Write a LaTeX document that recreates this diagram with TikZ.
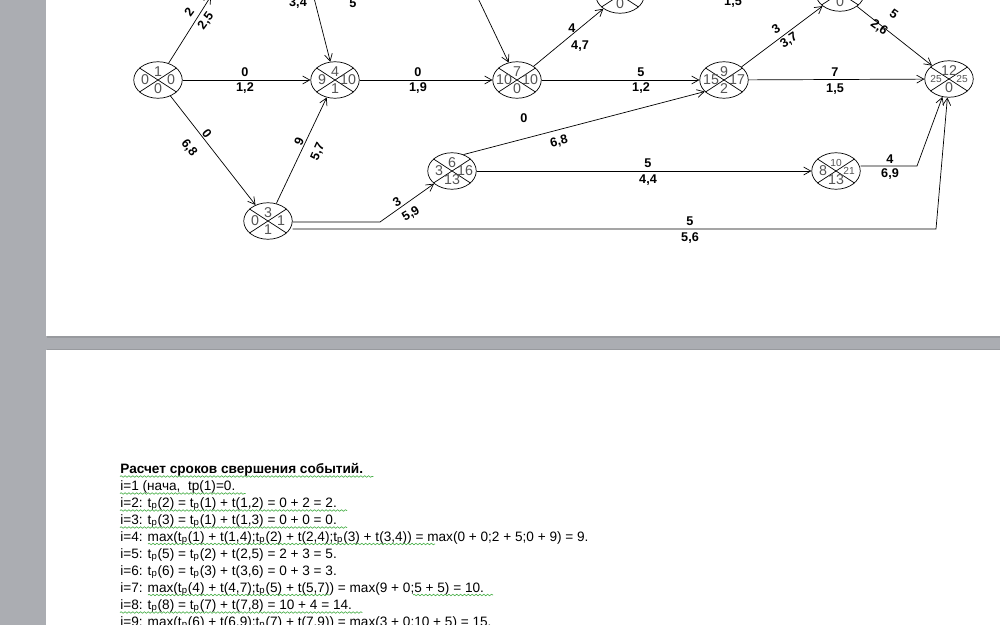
\documentclass[tikz,border=0pt]{standalone}
\usepackage{fontspec}
\setmainfont{Liberation Sans}
\usetikzlibrary{arrows.meta,shapes.geometric,decorations.pathmorphing}
\definecolor{desk}{RGB}{171,173,178}
\definecolor{deskdark}{RGB}{152,154,158}
\definecolor{numgray}{RGB}{85,85,85}
\definecolor{spell}{RGB}{70,175,70}
\newcommand{\tp}{t\textsubscript{р}}
\newcommand{\sm}{\fontsize{5.8}{6}\selectfont}
% event circle: name, position, top, left, right, bottom
\newcommand{\event}[6]{%
  \node[evt] (#1) at (#2) {};
  \draw (#1.147) -- (#1.-33) (#1.33) -- (#1.213);
  \node[num] (#1t) at ([yshift=1.65mm]#1.center) {#3};
  \node[num] (#1l) at ([xshift=-2.6mm]#1.center) {#4};
  \node[num] (#1r) at ([xshift=2.6mm]#1.center) {#5};
  \node[num] (#1b) at ([yshift=-1.65mm]#1.center) {#6};}
\tikzset{
  evt/.style={ellipse,draw,minimum width=0.97cm,minimum height=0.73cm,inner sep=0},
  num/.style={inner sep=0,text=numgray,font=\fontsize{8.1}{8}\selectfont},
  lbl/.style={inner sep=0,font=\fontsize{7.2}{7}\selectfont\bfseries},
  arr/.style={-{Straight Barb[length=4pt,width=4.5pt]}},
  txt/.style={anchor=base west,inner sep=0,font=\fontsize{7.75}{8.5}\selectfont},
  squig/.style={spell,line width=0.35pt,decorate,decoration={snake,amplitude=0.45pt,segment length=2.2pt}}
}
\begin{document}
\begin{tikzpicture}[x=0.02cm,y=-0.02cm,line width=0.4pt]
\useasboundingbox (0,0) rectangle (1000,625);
\clip (0,0) rectangle (1000,625);
% pages
\fill[desk] (0,0) rectangle (1000,625);
\fill[deskdark] (47,-10) rectangle (1010,338);
\fill[white] (46,-10) rectangle (1010,336);
\fill[deskdark] (47,349) rectangle (1010,640);
\fill[white] (46,350) rectangle (1010,640);

% events
\event{n1}{158,80}{1}{0}{0}{0}
\event{n4}{335,80}{4}{9}{10}{1}
\event{n7}{517,80}{7}{10}{10}{0}
\event{n9}{724,80}{9}{15}{17}{2}
\event{n12}{949,79}{12}{\sm 25}{\sm 25}{0}
\event{n3}{268,221}{3}{0}{1}{1}
\event{n6}{452,171}{6}{3}{16}{13}
\event{n8}{836,171}{\sm 10}{8}{\sm 21}{13}
\event{n5}{620,-5}{}{}{}{0}
\event{n10}{840,-7}{}{}{}{0}
\coordinate (c2) at (211,-4);
\coordinate (c24) at (313,-6);
\coordinate (c57) at (476,-6);
\coordinate (b36) at (380,222);
\coordinate (b312) at (936,229);
\coordinate (b812) at (917,166);

% works
\draw[arr] (n1) -- (c2);
\node[lbl,rotate=54] (w12a) at (189,12) {2};
\node[lbl,rotate=54] (w12b) at (206,21) {2,5};
\draw[arr] (n1) -- (n4);
\node[lbl] (w14a) at (245,72) {0};
\node[lbl] (w14b) at (245,88) {1,2};
\draw[arr] (n1) -- (n3);
\node[lbl,rotate=-52] (w13a) at (207,134) {0};
\node[lbl,rotate=-52] (w13b) at (189,148) {6,8};
\draw[arr] (n3) -- (n4);
\node[lbl,rotate=66] (w34a) at (299,142) {9};
\node[lbl,rotate=66] (w34b) at (318,152) {5,7};
\draw[arr] (c24) -- (n4);
\node[lbl] (w24) at (298,3) {3,4};
\node[lbl] (wtop) at (353,3) {5};
\draw[arr] (n4) -- (n7);
\node[lbl] (w47a) at (418,72) {0};
\node[lbl] (w47b) at (418,88) {1,9};
\draw[arr] (c57) -- (n7);
\draw[arr] (n7) -- (n5);
\node[lbl] (w75a) at (572,28) {4};
\node[lbl] (w75b) at (580,46) {4,7};
\node[lbl] (w510) at (733,2) {1,5};
\draw[arr] (n7) -- (n9);
\node[lbl] (w79a) at (641,72) {5};
\node[lbl] (w79b) at (641,88) {1,2};
\draw[arr] (n9) -- (n10);
\node[lbl,rotate=33] (w910a) at (776,29) {3};
\node[lbl,rotate=33] (w910b) at (789,41) {3,7};
\draw[arr] (n10) -- (n12);
\node[lbl,rotate=-35] (w1012a) at (894,14) {5};
\node[lbl,rotate=-35] (w1012b) at (879,28) {2,6};
\draw[arr] (n9) -- (n12);
\node[lbl] (w912a) at (835,72) {7};
\node[lbl] (w912b) at (835,89) {1,5};
\draw[arr] (n3.east |- b36) -- (b36) -- (n6);
\node[lbl,rotate=31] (w36a) at (397,202) {3};
\node[lbl,rotate=31] (w36b) at (411,214) {5,9};
\draw[arr] (n6.55) -- (n9.211);
\node[lbl] (w69a) at (524,118) {0};
\node[lbl,rotate=14] (w69b) at (559,142) {6,8};
\draw[arr] (n6) -- (n8);
\node[lbl] (w68a) at (648,163) {5};
\node[lbl] (w68b) at (648,180) {4,4};
\draw[arr] (n8.east |- b812) -- (b812) -- (n12);
\node[lbl] (w812a) at (890,159) {4};
\node[lbl] (w812b) at (890,174) {6,9};
\draw[arr] (n3.east |- b312) -- (b312) -- (n12);
\node[lbl] (w312a) at (690,221) {5};
\node[lbl] (w312b) at (690,238) {5,6};

% text on the second page
\node[txt] (l0) at (120,473) {\textbf{Расчет сроков свершения событий.}};
\node[txt] (l1) at (120,490) {i=1 (нача,\ \ tp(1)=0.};
\node[txt] (l2) at (120,507) {i=2: \tp(2) = \tp(1) + t(1,2) = 0 + 2 = 2.};
\node[txt] (l3) at (120,524) {i=3: \tp(3) = \tp(1) + t(1,3) = 0 + 0 = 0.};
\node[txt] (l4) at (120,541) {i=4: max(\tp(1) + t(1,4);\tp(2) + t(2,4);\tp(3) + t(3,4)) = max(0 + 0;2 + 5;0 + 9) = 9.};
\node[txt] (l5) at (120,558) {i=5: \tp(5) = \tp(2) + t(2,5) = 2 + 3 = 5.};
\node[txt] (l6) at (120,575) {i=6: \tp(6) = \tp(3) + t(3,6) = 0 + 3 = 3.};
\node[txt] (l7) at (120,592) {i=7: max(\tp(4) + t(4,7);\tp(5) + t(5,7)) = max(9 + 0;5 + 5) = 10.};
\node[txt] (l8) at (120,609) {i=8: \tp(8) = \tp(7) + t(7,8) = 10 + 4 = 14.};
\node[txt] (l9) at (120,626) {i=9: max(\tp(6) + t(6,9);\tp(7) + t(7,9)) = max(3 + 0;10 + 5) = 15.};
\foreach \l in {l0,l1,l2,l3,l8}
  \draw[squig] ([yshift=-0.7mm]\l.base west) -- ([yshift=-0.7mm,xshift=2mm]\l.base east);
\draw[squig] (148,544) -- (435,544);
\draw[squig] (148,595) -- (330,595);
\draw[squig] (413,595) -- (493,595);
\end{tikzpicture}
\end{document}
